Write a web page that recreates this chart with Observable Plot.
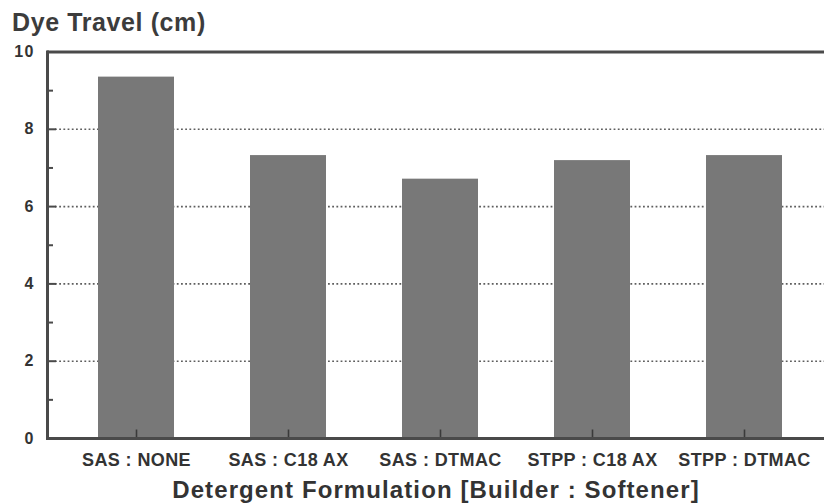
<!DOCTYPE html>
<html>
<head>
<meta charset="utf-8">
<script src="https://cdn.jsdelivr.net/npm/d3@7"></script>
<script src="https://cdn.jsdelivr.net/npm/@observablehq/plot@0.6"></script>
<style>
  html, body { margin: 0; padding: 0; background: #fff; }
  body { width: 824px; height: 504px; overflow: hidden; font-family: "Liberation Sans", Arial, Helvetica, sans-serif; }
  #title { height: 40px; position: relative; }
  #title span { position: absolute; left: 12px; top: 10px; font-size: 25px; font-weight: bold; color: #3c3c3c; letter-spacing: 0.6px; line-height: 1; }
  svg { display: block; }
  [aria-label="x-axis tick label"] text { letter-spacing: 0.4px; }
  [aria-label="y-axis tick label"] text { letter-spacing: 1.2px; }
  .xtitle text { letter-spacing: 1.1px; }
</style>
</head>
<body>
<div id="title"><span>Dye Travel (cm)</span></div>
<div id="chart"></div>
<script>
const categories = ["SAS : NONE", "SAS : C18 AX", "SAS : DTMAC", "STPP : C18 AX", "STPP : DTMAC"];
const dyeTravel = [9.35, 7.32, 6.71, 7.19, 7.32];
const majorTicks = [0, 2, 4, 6, 8, 10];
const minorTicks = [1, 3, 5, 7, 9];
const gridValues = [2, 4, 6, 8];
const yTitle = "Dye Travel (cm)";
const xTitle = "Detergent Formulation [Builder : Softener]";

const data = categories.map((c, i) => ({formulation: c, value: dyeTravel[i]}));

const W = 824, H = 464, ML = 47, MR = 0, MT = 11.5, MB = 66;
const frameW = W - ML - MR;
const axisColor = "#4a4a4a";

const chart = Plot.plot({
  width: W,
  height: H,
  marginLeft: ML,
  marginRight: MR,
  marginTop: MT,
  marginBottom: MB,
  style: {fontFamily: "'Liberation Sans', Arial, Helvetica, sans-serif", color: "#333", background: "#fff"},
  x: {domain: categories, range: [47, 832], padding: 0.5, paddingOuter: 0.316},
  y: {domain: [0, 10]},
  marks: [
    Plot.ruleY(gridValues, {y: d => d, stroke: "#5e5e5e", strokeWidth: 1.6, strokeDasharray: "1.8,2.4", insetLeft: 8}),
    Plot.barY(data, {x: "formulation", y: "value", fill: "#787878"}),
    Plot.ruleX(categories, {x: d => d, y1: 0, y2: 0.22, stroke: "#3a3a3a", strokeWidth: 1.6}),
    Plot.ruleY(majorTicks, {y: d => d, stroke: axisColor, strokeWidth: 2, insetRight: frameW - 9}),
    Plot.ruleY(minorTicks, {y: d => d, stroke: axisColor, strokeWidth: 2, insetRight: frameW - 6}),
    Plot.ruleY([0, 10], {y: d => d, stroke: axisColor, strokeWidth: 3}),
    Plot.frame({anchor: "left", stroke: axisColor, strokeWidth: 3}),
    Plot.axisY(majorTicks, {tickSize: 0, tickPadding: 13, fontSize: 16, fontWeight: "bold", fill: "#333", label: null}),
    Plot.axisX({tickSize: 0, tickPadding: 15, fontSize: 18, fontWeight: "bold", fill: "#333", label: null}),
    Plot.text([xTitle], {frameAnchor: "bottom", lineAnchor: "top", dy: 42, fontSize: 24, fontWeight: "bold", fill: "#333", className: "xtitle"})
  ]
});
document.getElementById("chart").appendChild(chart);
</script>
</body>
</html>
